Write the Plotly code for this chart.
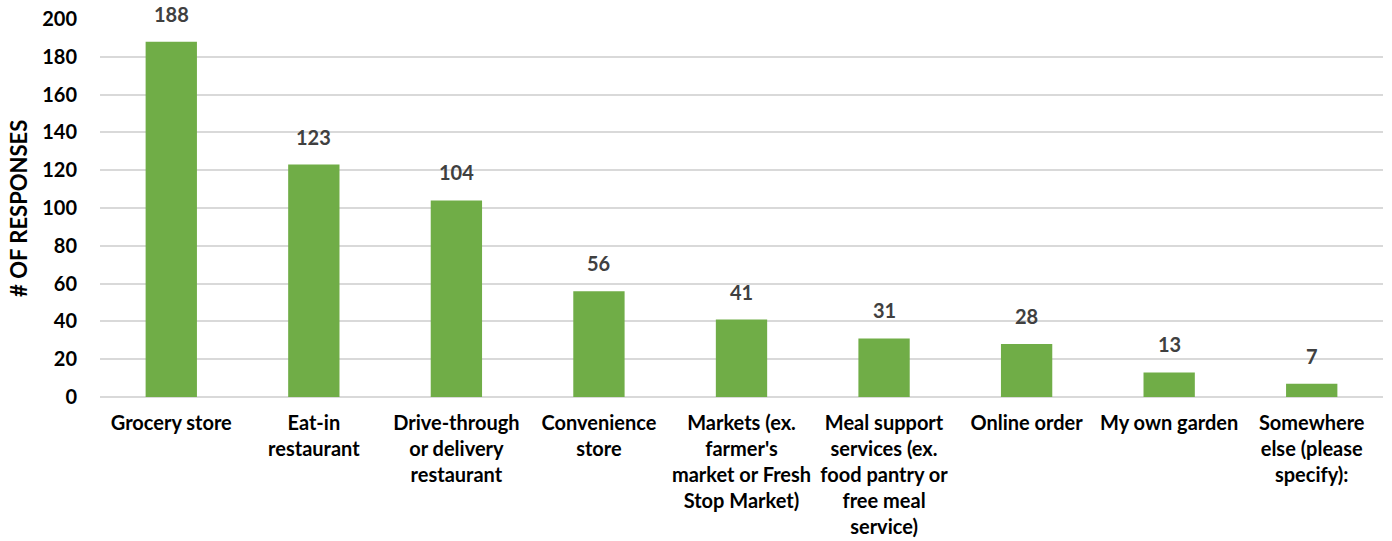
import plotly.graph_objects as go

categories = [
    "Grocery store",
    "Eat-in<br>restaurant",
    "Drive-through<br>or delivery<br>restaurant",
    "Convenience<br>store",
    "Markets (ex.<br>farmer's<br>market or Fresh<br>Stop Market)",
    "Meal support<br>services (ex.<br>food pantry or<br>free meal<br>service)",
    "Online order",
    "My own garden",
    "Somewhere<br>else (please<br>specify):",
]
responses = [188, 123, 104, 56, 41, 31, 28, 13, 7]
y_ticks = [0, 20, 40, 60, 80, 100, 120, 140, 160, 180, 200]

FONT = "Lato"
GREEN = "#70AD47"

fig = go.Figure(
    go.Bar(
        x=categories,
        y=responses,
        marker=dict(color=GREEN, line=dict(width=0)),
        hoverinfo="skip",
    )
)

# value labels above each bar
for cat, val in zip(categories, responses):
    fig.add_annotation(
        x=cat, y=val, text=f"<b>{val}</b>", showarrow=False,
        yanchor="bottom", yshift=14,
        font=dict(family=FONT, size=20, color="#404040"),
    )

# vertical axis title
fig.add_annotation(
    xref="paper", yref="paper", x=-0.064, y=0.5,
    text="<b># OF RESPONSES</b>", showarrow=False, textangle=-90,
    xanchor="center", yanchor="middle",
    font=dict(family=FONT, size=22, color="black"),
)

fig.update_layout(
    width=1392, height=541,
    margin=dict(l=100, r=9, t=19, b=144),
    paper_bgcolor="white", plot_bgcolor="white",
    bargap=0.64,
    showlegend=False,
    font=dict(family=FONT, color="black"),
)
fig.update_xaxes(
    tickfont=dict(family=FONT, size=20, color="black", weight="bold"),
    showline=False, showgrid=False, ticks="", ticklabelstandoff=12,
    tickangle=0, automargin=False,
)
fig.update_yaxes(
    range=[0, 200], tickvals=y_ticks,
    tickfont=dict(family=FONT, size=20, color="black", weight="bold"),
    showgrid=True, gridcolor="#D9D9D9", gridwidth=1.5,
    zeroline=True, zerolinecolor="#D9D9D9", zerolinewidth=1.5,
    ticks="", ticklabelstandoff=22, automargin=False,
)

fig.write_html("out.html")
